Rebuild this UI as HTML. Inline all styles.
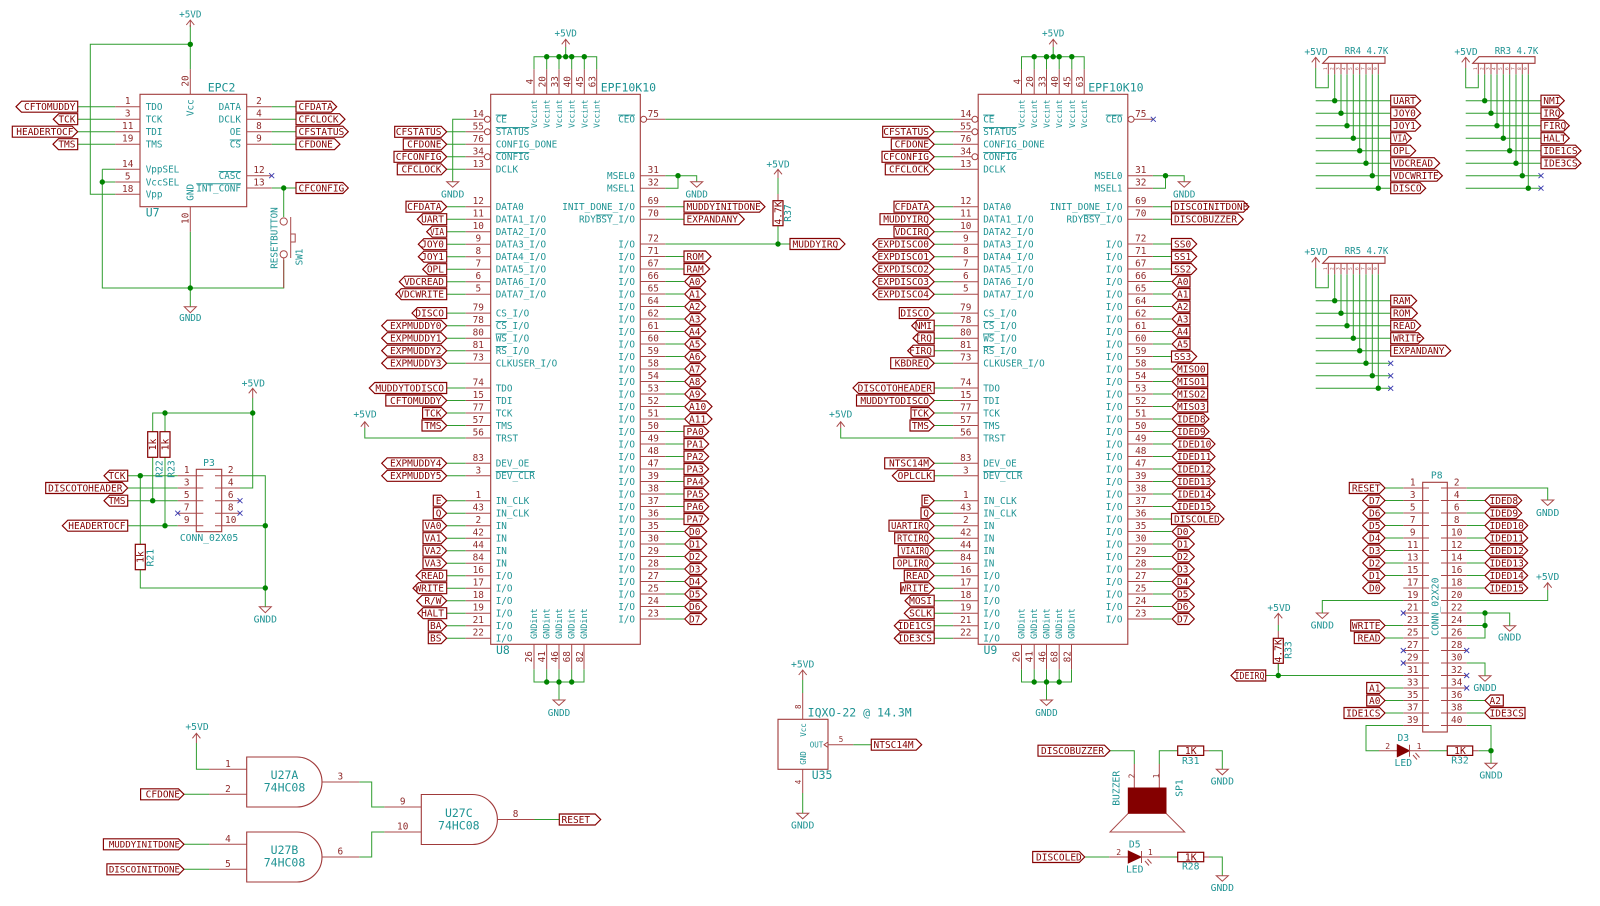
<!DOCTYPE html>
<html><head><meta charset="utf-8"><title>Schematic</title>
<style>
html,body{margin:0;padding:0;background:#fff}
svg{display:block;filter:blur(.3px)}
text{font-family:"DejaVu Sans Mono","Liberation Mono",monospace;font-size:9.7px}
.t text,text.t{fill:#1f9393}
.n text,text.n{fill:#8f2a2a;font-size:9.4px;text-anchor:middle}
.lt text{fill:#840000;font-size:9.5px}
text.lt{fill:#840000;font-size:9.5px}
.m{text-anchor:middle}.e{text-anchor:end}
.nm text{font-size:9.3px}
.big{font-size:11.5px!important}
.o{text-decoration:overline}
path,rect,circle{fill:none}
.w{stroke:#2f9c2f;stroke-width:1}
.p{stroke:#a84848;stroke-width:1}
.b{stroke:#a03a3a;stroke-width:1.1}
.l{stroke:#840000;stroke-width:1.15;fill:#fff}
.rb{stroke:#840000;stroke-width:1.2;fill:#fff}
.j{stroke:#008400;stroke-width:5.4;stroke-linecap:round}
.x{stroke:#3a3ab0;stroke-width:.9}
.inv{stroke:#a03a3a;stroke-width:1;fill:#fff}
.f{fill:#840000;stroke:#840000}
.s text{font-size:7.5px}
.tiny text{font-size:4.5px;fill:#a84848}
</style></head><body>
<svg xmlns="http://www.w3.org/2000/svg" width="1600" height="906" viewBox="0 0 1600 906">
<rect width="1600" height="906" fill="#fff"/>

<!-- U7 -->
<rect class="b" x="140" y="94.3" width="106.7" height="112.4"/>
<path class="w" d="M190.3 25V69.3M190.3 44.3H90.3V194.3H115.3M77.7 106.7H115.3M77.7 119.2H115.3M77.7 131.7H115.3M77.7 144.2H115.3M102.3 169.3H115.3M102.3 182H115.3M102.3 169.3V288H283.7V260M190.3 231.7V306.7M271.7 106.7H296M271.7 119.2H296M271.7 131.7H296M271.7 144.2H296M271.7 188H296M283.7 188V217"/>
<path class="p" d="M186.3 25L190.3 20 194.3 25M190.3 20V27M190.3 69.3V94.3M115.3 106.7H140M115.3 119.2H140M115.3 131.7H140M115.3 144.2H140M115.3 169.3H140M115.3 182H140M115.3 194.3H140M246.7 106.7H271.7M246.7 119.2H271.7M246.7 131.7H271.7M246.7 144.2H271.7M246.7 175.7H271.7M246.7 188H271.7M190.3 206.7V231.7M184.3 306.7h12l-6 6zM290.7 217V258M290.7 234h4.5v8h-4.5M283.7 258V288"/>
<circle class="p" cx="283.7" cy="221.5" r="3.6"/><circle class="p" cx="283.7" cy="254.3" r="3.6"/>
<path class="j" d="M190.3 44.3h0M102.3 182h0M190.3 288h0M283.7 188h0"/>
<path class="x" d="M269.2 173.2l5 5m0-5l-5 5"/>
<path class="l" d="M16 106.7l5.5-5.5H77.7v11H21.5zM53.3 119.2l5.5-5.5H77.7v11H58.8zM12.3 131.7v-5.5H72.2l5.5 5.5-5.5 5.5H12.3zM53 144.2l5.5-5.5H77.7v11H58.5zM296 106.7v-5.5H331.2l5.5 5.5-5.5 5.5H296zM296 119.2v-5.5H339.5l5.5 5.5-5.5 5.5H296zM296 131.7v-5.5H342.8l5.5 5.5-5.5 5.5H296zM296 144.2v-5.5H334.5l5.5 5.5-5.5 5.5H296zM296 188v-5.5H342.8l5.5 5.5-5.5 5.5H296z"/>
<g class="lt">
<text class="e" x="75.5" y="110">CFTOMUDDY</text><text class="e" x="75.5" y="122.6">TCK</text><text class="e" x="73.5" y="135.1">HEADERTOCF</text><text class="e" x="75.5" y="147.6">TMS</text>
<text x="298.5" y="110">CFDATA</text><text x="298.5" y="122.6">CFCLOCK</text><text x="298.5" y="135.1">CFSTATUS</text><text x="298.5" y="147.6">CFDONE</text><text x="298.5" y="191.4">CFCONFIG</text>
</g>
<g class="n">
<text x="127.7" y="104.2">1</text><text x="127.7" y="116.7">3</text><text x="127.7" y="129.2">11</text><text x="127.7" y="141.7">19</text><text x="127.7" y="166.8">14</text><text x="127.7" y="179.5">5</text><text x="127.7" y="191.8">18</text>
<text x="259" y="104.2">2</text><text x="259" y="116.7">4</text><text x="259" y="129.2">8</text><text x="259" y="141.7">9</text><text x="259" y="173.2">12</text><text x="259" y="185.5">13</text>
<text x="188.5" y="81" transform="rotate(-90 188.5 81)">20</text><text x="188.5" y="218.3" transform="rotate(-90 188.5 218.3)">10</text>
</g>
<g class="t nm">
<text x="145.7" y="110">TDO</text><text x="145.7" y="122.5">TCK</text><text x="145.7" y="135">TDI</text><text x="145.7" y="147.5">TMS</text><text x="145.7" y="172.6">VppSEL</text><text x="145.7" y="185.3">VccSEL</text><text x="145.7" y="197.6">Vpp</text>
<g class="e"><text x="241" y="110">DATA</text><text x="241" y="122.5">DCLK</text><text x="241" y="135">OE</text><text x="241" y="147.5"><tspan class="o">CS</tspan></text><text x="241" y="179"><tspan class="o">CASC</tspan></text><text x="241" y="191.3"><tspan class="o">INT_CONF</tspan></text></g>
<text class="m" x="193.6" y="107.7" transform="rotate(-90 193.6 107.7)">Vcc</text><text class="m" x="193.6" y="192.3" transform="rotate(-90 193.6 192.3)">GND</text>
<text class="big" x="145.7" y="216.5">U7</text><text class="big" x="207.7" y="91.3">EPC2</text>
<text class="m" x="190.3" y="17.5">+5VD</text><text class="m" x="190.3" y="321">GNDD</text>
<text class="m" x="277.3" y="238" transform="rotate(-90 277.3 238)">RESETBUTTON</text><text class="m" x="302.3" y="257" transform="rotate(-90 302.3 257)">SW1</text>
</g>

<!-- common FPGA symbol -->
<g id="c">
<rect class="b" x="490.7" y="94.3" width="149.6" height="550"/>
<path class="w" d="M534 69.3V56.7H596.7V69.3M546.7 69.3V56.7M559 69.3V56.7M571.7 69.3V56.7M584.3 69.3V56.7M565.7 56.7V47M534 669.3V682H584V669.3M546.7 669.3V682M559 669.3V700M571.7 669.3V682M665.3 175.7H696.7V181.7M665.3 188.2H678V175.7
M446.7 131.8H465.7M446.7 144.3H465.7M446.7 156.8H465.7M446.7 169.3H465.7M446.7 206.7H465.7M446.7 219.2H465.7M446.7 231.7H465.7M446.7 244.2H465.7M446.7 256.7H465.7M446.7 269.2H465.7M446.7 281.7H465.7M446.7 294.2H465.7M446.7 313.1H465.7M446.7 325.7H465.7M446.7 338.2H465.7M446.7 350.7H465.7M446.7 363.2H465.7M446.7 388H465.7M446.7 400.5H465.7M446.7 413H465.7M446.7 425.5H465.7M446.7 463.3H465.7M446.7 475.8H465.7M446.7 500.7H465.7M446.7 513.2H465.7M446.7 525.7H465.7M446.7 538.2H465.7M446.7 550.7H465.7M446.7 563.2H465.7M446.7 575.7H465.7M446.7 588.2H465.7M446.7 600.7H465.7M446.7 613.2H465.7M446.7 625.7H465.7M446.7 638.2H465.7
M665.3 206.7H684M665.3 219.2H684M665.3 244H684M665.3 256.5H684M665.3 269H684M665.3 281.5H684M665.3 294H684M665.3 306.5H684M665.3 319H684M665.3 331.5H684M665.3 344H684M665.3 356.5H684M665.3 369H684M665.3 381.5H684M665.3 394H684M665.3 406.5H684M665.3 419H684M665.3 431.5H684M665.3 444H684M665.3 456.5H684M665.3 469H684M665.3 481.5H684M665.3 494H684M665.3 506.5H684M665.3 519H684M665.3 531.5H684M665.3 544H684M665.3 556.5H684M665.3 569H684M665.3 581.5H684M665.3 594H684M665.3 606.5H684M665.3 619H684"/>
<path class="p" d="M561.7 44.3L565.7 39.3 569.7 44.3M565.7 39.3V47M534 69.3V94.3M546.7 69.3V94.3M559 69.3V94.3M571.7 69.3V94.3M584.3 69.3V94.3M596.7 69.3V94.3M534 644.3V669.3M546.7 644.3V669.3M559 644.3V669.3M571.7 644.3V669.3M584 644.3V669.3M553 700h12l-6 5.5zM690.7 181.7h12l-6 5.5z
M465.7 119.3H490.7M465.7 131.8H490.7M465.7 144.3H490.7M465.7 156.8H490.7M465.7 169.3H490.7M465.7 206.7H490.7M465.7 219.2H490.7M465.7 231.7H490.7M465.7 244.2H490.7M465.7 256.7H490.7M465.7 269.2H490.7M465.7 281.7H490.7M465.7 294.2H490.7M465.7 313.1H490.7M465.7 325.7H490.7M465.7 338.2H490.7M465.7 350.7H490.7M465.7 363.2H490.7M465.7 388H490.7M465.7 400.5H490.7M465.7 413H490.7M465.7 425.5H490.7M465.7 438H490.7M465.7 463.3H490.7M465.7 475.8H490.7M465.7 500.7H490.7M465.7 513.2H490.7M465.7 525.7H490.7M465.7 538.2H490.7M465.7 550.7H490.7M465.7 563.2H490.7M465.7 575.7H490.7M465.7 588.2H490.7M465.7 600.7H490.7M465.7 613.2H490.7M465.7 625.7H490.7M465.7 638.2H490.7
M640.3 119.3H665.3M640.3 175.7H665.3M640.3 188.2H665.3M640.3 206.7H665.3M640.3 219.2H665.3M640.3 244H665.3M640.3 256.5H665.3M640.3 269H665.3M640.3 281.5H665.3M640.3 294H665.3M640.3 306.5H665.3M640.3 319H665.3M640.3 331.5H665.3M640.3 344H665.3M640.3 356.5H665.3M640.3 369H665.3M640.3 381.5H665.3M640.3 394H665.3M640.3 406.5H665.3M640.3 419H665.3M640.3 431.5H665.3M640.3 444H665.3M640.3 456.5H665.3M640.3 469H665.3M640.3 481.5H665.3M640.3 494H665.3M640.3 506.5H665.3M640.3 519H665.3M640.3 531.5H665.3M640.3 544H665.3M640.3 556.5H665.3M640.3 569H665.3M640.3 581.5H665.3M640.3 594H665.3M640.3 606.5H665.3M640.3 619H665.3"/>
<path class="j" d="M546.7 56.7h0M559 56.7h0M565.7 56.7h0M571.7 56.7h0M584.3 56.7h0M546.7 682h0M559 682h0M571.7 682h0M678 175.7h0"/>
<circle class="inv" cx="487.4" cy="119.3" r="3"/><circle class="inv" cx="487.4" cy="131.8" r="3"/><circle class="inv" cx="487.4" cy="156.8" r="3"/><circle class="inv" cx="643.6" cy="119.3" r="3"/>
<g class="n">
<text x="478.3" y="116.8">14</text><text x="478.3" y="129.3">55</text><text x="478.3" y="141.8">76</text><text x="478.3" y="154.3">34</text><text x="478.3" y="166.8">13</text><text x="478.3" y="204.2">12</text><text x="478.3" y="216.7">11</text><text x="478.3" y="229.2">10</text><text x="478.3" y="241.7">9</text><text x="478.3" y="254.2">8</text><text x="478.3" y="266.7">7</text><text x="478.3" y="279.2">6</text><text x="478.3" y="291.7">5</text><text x="478.3" y="310.6">79</text><text x="478.3" y="323.2">78</text><text x="478.3" y="335.7">80</text><text x="478.3" y="348.2">81</text><text x="478.3" y="360.7">73</text><text x="478.3" y="385.5">74</text><text x="478.3" y="398">15</text><text x="478.3" y="410.5">77</text><text x="478.3" y="423">57</text><text x="478.3" y="435.5">56</text><text x="478.3" y="460.8">83</text><text x="478.3" y="473.3">3</text><text x="478.3" y="498.2">1</text><text x="478.3" y="510.7">43</text><text x="478.3" y="523.2">2</text><text x="478.3" y="535.7">42</text><text x="478.3" y="548.2">44</text><text x="478.3" y="560.7">84</text><text x="478.3" y="573.2">16</text><text x="478.3" y="585.7">17</text><text x="478.3" y="598.2">18</text><text x="478.3" y="610.7">19</text><text x="478.3" y="623.2">21</text><text x="478.3" y="635.7">22</text>
<text x="653.3" y="116.8">75</text><text x="653.3" y="173.2">31</text><text x="653.3" y="185.7">32</text><text x="653.3" y="204.2">69</text><text x="653.3" y="216.7">70</text>
<text x="653.3" y="241.5">72</text><text x="653.3" y="254">71</text><text x="653.3" y="266.5">67</text><text x="653.3" y="279">66</text><text x="653.3" y="291.5">65</text><text x="653.3" y="304">64</text><text x="653.3" y="316.5">62</text><text x="653.3" y="329">61</text><text x="653.3" y="341.5">60</text><text x="653.3" y="354">59</text><text x="653.3" y="366.5">58</text><text x="653.3" y="379">54</text><text x="653.3" y="391.5">53</text><text x="653.3" y="404">52</text><text x="653.3" y="416.5">51</text><text x="653.3" y="429">50</text><text x="653.3" y="441.5">49</text><text x="653.3" y="454">48</text><text x="653.3" y="466.5">47</text><text x="653.3" y="479">39</text><text x="653.3" y="491.5">38</text><text x="653.3" y="504">37</text><text x="653.3" y="516.5">36</text><text x="653.3" y="529">35</text><text x="653.3" y="541.5">30</text><text x="653.3" y="554">29</text><text x="653.3" y="566.5">28</text><text x="653.3" y="579">27</text><text x="653.3" y="591.5">25</text><text x="653.3" y="604">24</text><text x="653.3" y="616.5">23</text>
<text x="533" y="81.7" transform="rotate(-90 533 81.7)">4</text><text x="545.5" y="81.7" transform="rotate(-90 545.5 81.7)">20</text><text x="558" y="81.7" transform="rotate(-90 558 81.7)">33</text><text x="570.5" y="81.7" transform="rotate(-90 570.5 81.7)">40</text><text x="583" y="81.7" transform="rotate(-90 583 81.7)">45</text><text x="595.5" y="81.7" transform="rotate(-90 595.5 81.7)">63</text>
<text x="532" y="656.7" transform="rotate(-90 532 656.7)">26</text><text x="545" y="656.7" transform="rotate(-90 545 656.7)">41</text><text x="558" y="656.7" transform="rotate(-90 558 656.7)">46</text><text x="570" y="656.7" transform="rotate(-90 570 656.7)">68</text><text x="583" y="656.7" transform="rotate(-90 583 656.7)">82</text>
</g>
<g class="t nm">
<text x="495.7" y="122.6"><tspan class="o">CE</tspan></text><text x="495.7" y="135.1"><tspan class="o">STATUS</tspan></text><text x="495.7" y="147.6">CONFIG_DONE</text><text x="495.7" y="160.1"><tspan class="o">CONFIG</tspan></text><text x="495.7" y="172.6">DCLK</text><text x="495.7" y="210">DATA0</text><text x="495.7" y="222.5">DATA1_I/O</text><text x="495.7" y="235">DATA2_I/O</text><text x="495.7" y="247.5">DATA3_I/O</text><text x="495.7" y="260">DATA4_I/O</text><text x="495.7" y="272.5">DATA5_I/O</text><text x="495.7" y="285">DATA6_I/O</text><text x="495.7" y="297.5">DATA7_I/O</text><text x="495.7" y="316.4">CS_I/O</text><text x="495.7" y="329"><tspan class="o">CS</tspan>_I/O</text><text x="495.7" y="341.5"><tspan class="o">WS</tspan>_I/O</text><text x="495.7" y="354"><tspan class="o">RS</tspan>_I/O</text><text x="495.7" y="366.5">CLKUSER_I/O</text><text x="495.7" y="391.3">TDO</text><text x="495.7" y="403.8">TDI</text><text x="495.7" y="416.3">TCK</text><text x="495.7" y="428.8">TMS</text><text x="495.7" y="441.3">TRST</text><text x="495.7" y="466.6">DEV_OE</text><text x="495.7" y="479.1"><tspan class="o">DEV_CLR</tspan></text><text x="495.7" y="504">IN_CLK</text><text x="495.7" y="516.5">IN_CLK</text><text x="495.7" y="529">IN</text><text x="495.7" y="541.5">IN</text><text x="495.7" y="554">IN</text><text x="495.7" y="566.5">IN</text><text x="495.7" y="579">I/O</text><text x="495.7" y="591.5">I/O</text><text x="495.7" y="604">I/O</text><text x="495.7" y="616.5">I/O</text><text x="495.7" y="629">I/O</text><text x="495.7" y="641.5">I/O</text>
<g class="e"><text x="635" y="122.6"><tspan class="o">CEO</tspan></text><text x="635" y="179">MSEL0</text><text x="635" y="191.5">MSEL1</text><text x="635" y="210">INIT_DONE_I/O</text><text x="635" y="222.5">RDY<tspan class="o">BSY</tspan>_I/O</text>
<text x="635" y="247.3">I/O</text><text x="635" y="259.8">I/O</text><text x="635" y="272.3">I/O</text><text x="635" y="284.8">I/O</text><text x="635" y="297.3">I/O</text><text x="635" y="309.8">I/O</text><text x="635" y="322.3">I/O</text><text x="635" y="334.8">I/O</text><text x="635" y="347.3">I/O</text><text x="635" y="359.8">I/O</text><text x="635" y="372.3">I/O</text><text x="635" y="384.8">I/O</text><text x="635" y="397.3">I/O</text><text x="635" y="409.8">I/O</text><text x="635" y="422.3">I/O</text><text x="635" y="434.8">I/O</text><text x="635" y="447.3">I/O</text><text x="635" y="459.8">I/O</text><text x="635" y="472.3">I/O</text><text x="635" y="484.8">I/O</text><text x="635" y="497.3">I/O</text><text x="635" y="509.8">I/O</text><text x="635" y="522.3">I/O</text><text x="635" y="534.8">I/O</text><text x="635" y="547.3">I/O</text><text x="635" y="559.8">I/O</text><text x="635" y="572.3">I/O</text><text x="635" y="584.8">I/O</text><text x="635" y="597.3">I/O</text><text x="635" y="609.8">I/O</text><text x="635" y="622.3">I/O</text></g>
<g class="e">
<text style="font-size:7.9px" x="537" y="99.5" transform="rotate(-90 537 99.5)">Vccint</text><text style="font-size:7.9px" x="549.7" y="99.5" transform="rotate(-90 549.7 99.5)">Vccint</text><text style="font-size:7.9px" x="562" y="99.5" transform="rotate(-90 562 99.5)">Vccint</text><text style="font-size:7.9px" x="574.7" y="99.5" transform="rotate(-90 574.7 99.5)">Vccint</text><text style="font-size:7.9px" x="587.3" y="99.5" transform="rotate(-90 587.3 99.5)">Vccint</text><text style="font-size:7.9px" x="599.7" y="99.5" transform="rotate(-90 599.7 99.5)">Vccint</text>
</g>
<text style="font-size:8.5px" x="537" y="639" transform="rotate(-90 537 639)">GNDint</text><text style="font-size:8.5px" x="549.7" y="639" transform="rotate(-90 549.7 639)">GNDint</text><text style="font-size:8.5px" x="562" y="639" transform="rotate(-90 562 639)">GNDint</text><text style="font-size:8.5px" x="574.7" y="639" transform="rotate(-90 574.7 639)">GNDint</text><text style="font-size:8.5px" x="587" y="639" transform="rotate(-90 587 639)">GNDint</text>
<text class="big" x="600.7" y="91.4">EPF10K10</text>
<text class="m" x="565.7" y="36.4">+5VD</text><text class="m" x="559" y="716">GNDD</text><text class="m" x="696.7" y="197.4">GNDD</text>
</g>
</g>
<use href="#c" x="487.5"/>
<g class="t"><text class="big" x="496" y="654">U8</text><text class="big" x="983.5" y="654">U9</text></g>

<!-- U8/U9 specific wires -->
<path class="w" d="M465.7 119.3H452.7V181.7M665.3 119.3H953.2M364.8 428V438H465.7M840.7 428V438H953.2M684 244H790M778 225.7V244M778 178V200.7"/>
<path class="p" d="M446.7 181.7h12l-6 5.5zM360.8 426.7L364.8 421.7 368.8 426.7M364.8 421.7V428M836.7 426.7L840.7 421.7 844.7 426.7M840.7 421.7V428M774 174.3L778 169.3 782 174.3M778 169.3V178M778 194V200.7"/>
<rect class="rb" x="773" y="200.7" width="10" height="25"/>
<path class="j" d="M778 244h0"/>
<path class="x" d="M1150.8 116.8l5 5m0-5l-5 5"/>
<path class="w" d="M1153.3 119.3H1152.8"/>
<g class="t"><text class="m" x="452.7" y="197.4">GNDD</text><text class="m" x="365" y="417.5">+5VD</text><text class="m" x="840.7" y="417.5">+5VD</text><text class="m" x="778" y="167.5">+5VD</text><text class="m" x="791" y="213" transform="rotate(-90 791 213)">R37</text></g>
<text class="m" fill="#840000" x="781.3" y="213" transform="rotate(-90 781.3 213)">4.7K</text>

<!-- U8 left labels -->
<path class="l" d="M394.7 131.8v-5.5H441.2l5.5 5.5-5.5 5.5H394.7zM403.3 144.3v-5.5H441.2l5.5 5.5-5.5 5.5H403.3zM394 156.8v-5.5H441.2l5.5 5.5-5.5 5.5H394zM397.3 169.3v-5.5H441.2l5.5 5.5-5.5 5.5H397.3zM406 206.7v-5.5H441.2l5.5 5.5-5.5 5.5H406z
M446.7 219.2v-5.5H422.8l-5.5 5.5 5.5 5.5H446.7zM446.7 231.7v-5.5H432.2l-5.5 5.5 5.5 5.5H446.7zM446.7 244.2v-5.5H423.8l-5.5 5.5 5.5 5.5H446.7zM446.7 256.7v-5.5H423.8l-5.5 5.5 5.5 5.5H446.7zM446.7 269.2v-5.5H428.2l-5.5 5.5 5.5 5.5H446.7zM446.7 281.7v-5.5H404.8l-5.5 5.5 5.5 5.5H446.7zM446.7 294.2v-5.5H401.2l-5.5 5.5 5.5 5.5H446.7zM446.7 313.1v-5.5H417.5l-5.5 5.5 5.5 5.5H446.7z
M381.7 325.7l5.5-5.5H441.2l5.5 5.5-5.5 5.5H387.2zM381.7 338.2l5.5-5.5H441.2l5.5 5.5-5.5 5.5H387.2zM381.7 350.7l5.5-5.5H441.2l5.5 5.5-5.5 5.5H387.2zM381.7 363.2l5.5-5.5H441.2l5.5 5.5-5.5 5.5H387.2z
M446.7 388v-5.5H374.8l-5.5 5.5 5.5 5.5H446.7zM385.8 400.5v-5.5H441.2l5.5 5.5-5.5 5.5H385.8zM422.6 413v-5.5H441.2l5.5 5.5-5.5 5.5H422.6zM422 425.5v-5.5H441.2l5.5 5.5-5.5 5.5H422z
M381.7 463.3l5.5-5.5H441.2l5.5 5.5-5.5 5.5H387.2zM381.7 475.8l5.5-5.5H441.2l5.5 5.5-5.5 5.5H387.2z
M433.3 500.7v-5.5H441.2l5.5 5.5-5.5 5.5H433.3zM433.3 513.2v-5.5H441.2l5.5 5.5-5.5 5.5H433.3zM423 525.7v-5.5H441.2l5.5 5.5-5.5 5.5H423zM423 538.2v-5.5H441.2l5.5 5.5-5.5 5.5H423zM423 550.7v-5.5H441.2l5.5 5.5-5.5 5.5H423zM423 563.2v-5.5H441.2l5.5 5.5-5.5 5.5H423z
M446.7 575.7v-5.5H421.5l-5.5 5.5 5.5 5.5H446.7zM446.7 588.2v-5.5H418.5l-5.5 5.5 5.5 5.5H446.7zM416.7 600.7l5.5-5.5H441.2l5.5 5.5-5.5 5.5H422.2zM446.7 613.2v-5.5H423.2l-5.5 5.5 5.5 5.5H446.7zM428.3 625.7v-5.5H441.2l5.5 5.5-5.5 5.5H428.3zM428.3 638.2v-5.5H441.2l5.5 5.5-5.5 5.5H428.3z"/>
<g class="lt e">
<text x="441.5" y="135.2">CFSTATUS</text><text x="441.5" y="147.7">CFDONE</text><text x="441.5" y="160.2">CFCONFIG</text><text x="441.5" y="172.7">CFCLOCK</text><text x="441.5" y="210.1">CFDATA</text><text x="444" y="222.6">UART</text><text x="444" y="235.1" textLength="14" lengthAdjust="spacingAndGlyphs">VIA</text><text x="444" y="247.6">JOY0</text><text x="444" y="260.1">JOY1</text><text x="444" y="272.6">OPL</text><text x="444" y="285.1">VDCREAD</text><text x="444" y="297.6">VDCWRITE</text><text x="444" y="316.5">DISCO</text><text x="441.5" y="329.1">EXPMUDDY0</text><text x="441.5" y="341.6">EXPMUDDY1</text><text x="441.5" y="354.1">EXPMUDDY2</text><text x="441.5" y="366.6">EXPMUDDY3</text><text x="444" y="391.4">MUDDYTODISCO</text><text x="441.5" y="403.9">CFTOMUDDY</text><text x="441.5" y="416.4">TCK</text><text x="441.5" y="428.9">TMS</text><text x="441.5" y="466.7">EXPMUDDY4</text><text x="441.5" y="479.2">EXPMUDDY5</text><text x="441.5" y="504.1">E</text><text x="441.5" y="516.6">Q</text><text x="441.5" y="529.1">VA0</text><text x="441.5" y="541.6">VA1</text><text x="441.5" y="554.1">VA2</text><text x="441.5" y="566.6">VA3</text><text x="444" y="579.1">READ</text><text x="444" y="591.6">WRITE</text><text x="441.5" y="604.1">R/W</text><text x="444" y="616.6">HALT</text><text x="441.5" y="629.1">BA</text><text x="441.5" y="641.6">BS</text>
</g>
<!-- U8 right labels -->
<path class="l" d="M684 206.7v-5.5H759.5l5.5 5.5-5.5 5.5H684zM684 219.2v-5.5H738.8l5.5 5.5-5.5 5.5H684zM684 256.5v-5.5H705.5l5.5 5.5-5.5 5.5H684zM684 269v-5.5H704.2l5.5 5.5-5.5 5.5H684z
M684.7 281.5l5.5-5.5H700.2l5.5 5.5-5.5 5.5H690.2zM684.7 294l5.5-5.5H700.2l5.5 5.5-5.5 5.5H690.2zM684.7 306.5l5.5-5.5H700.2l5.5 5.5-5.5 5.5H690.2zM684.7 319l5.5-5.5H700.2l5.5 5.5-5.5 5.5H690.2zM684.7 331.5l5.5-5.5H700.2l5.5 5.5-5.5 5.5H690.2zM684.7 344l5.5-5.5H700.2l5.5 5.5-5.5 5.5H690.2zM684.7 356.5l5.5-5.5H700.2l5.5 5.5-5.5 5.5H690.2zM684.7 369l5.5-5.5H700.2l5.5 5.5-5.5 5.5H690.2zM684.7 381.5l5.5-5.5H700.2l5.5 5.5-5.5 5.5H690.2zM684.7 394l5.5-5.5H700.2l5.5 5.5-5.5 5.5H690.2zM684.7 406.5l5.5-5.5H706.5l5.5 5.5-5.5 5.5H690.2zM684.7 419l5.5-5.5H706.5l5.5 5.5-5.5 5.5H690.2z
M684 431.5v-5.5H703.2l5.5 5.5-5.5 5.5H684zM684 444v-5.5H703.2l5.5 5.5-5.5 5.5H684zM684 456.5v-5.5H703.2l5.5 5.5-5.5 5.5H684zM684 469v-5.5H703.2l5.5 5.5-5.5 5.5H684zM684 481.5v-5.5H703.2l5.5 5.5-5.5 5.5H684zM684 494v-5.5H703.2l5.5 5.5-5.5 5.5H684zM684 506.5v-5.5H703.2l5.5 5.5-5.5 5.5H684zM684 519v-5.5H703.2l5.5 5.5-5.5 5.5H684z
M684.7 531.5l5.5-5.5H701.2l5.5 5.5-5.5 5.5H690.2zM684.7 544l5.5-5.5H701.2l5.5 5.5-5.5 5.5H690.2zM684.7 556.5l5.5-5.5H701.2l5.5 5.5-5.5 5.5H690.2zM684.7 569l5.5-5.5H701.2l5.5 5.5-5.5 5.5H690.2zM684.7 581.5l5.5-5.5H701.2l5.5 5.5-5.5 5.5H690.2zM684.7 594l5.5-5.5H701.2l5.5 5.5-5.5 5.5H690.2zM684.7 606.5l5.5-5.5H701.2l5.5 5.5-5.5 5.5H690.2zM684.7 619l5.5-5.5H701.2l5.5 5.5-5.5 5.5H690.2z
M790 244v-5.5H839.5l5.5 5.5-5.5 5.5H790z"/>
<g class="lt">
<text x="686.5" y="210.1">MUDDYINITDONE</text><text x="686.5" y="222.6">EXPANDANY</text><text x="686.5" y="259.9">ROM</text><text x="686.5" y="272.4">RAM</text>
<text x="689" y="284.9">A0</text><text x="689" y="297.4">A1</text><text x="689" y="309.9">A2</text><text x="689" y="322.4">A3</text><text x="689" y="334.9">A4</text><text x="689" y="347.4">A5</text><text x="689" y="359.9">A6</text><text x="689" y="372.4">A7</text><text x="689" y="384.9">A8</text><text x="689" y="397.4">A9</text><text x="689" y="409.9">A10</text><text x="689" y="422.4">A11</text>
<text x="686.5" y="434.9">PA0</text><text x="686.5" y="447.4">PA1</text><text x="686.5" y="459.9">PA2</text><text x="686.5" y="472.4">PA3</text><text x="686.5" y="484.9">PA4</text><text x="686.5" y="497.4">PA5</text><text x="686.5" y="509.9">PA6</text><text x="686.5" y="522.4">PA7</text>
<text x="689" y="534.9">D0</text><text x="689" y="547.4">D1</text><text x="689" y="559.9">D2</text><text x="689" y="572.4">D3</text><text x="689" y="584.9">D4</text><text x="689" y="597.4">D5</text><text x="689" y="609.9">D6</text><text x="689" y="622.4">D7</text>
<text x="792.5" y="247.4">MUDDYIRQ</text>
</g>

<!-- U9 left labels -->
<path class="l" d="M882.7 131.8v-5.5H928.7l5.5 5.5-5.5 5.5H882.7zM891.3 144.3v-5.5H928.7l5.5 5.5-5.5 5.5H891.3zM882 156.8v-5.5H928.7l5.5 5.5-5.5 5.5H882zM885.3 169.3v-5.5H928.7l5.5 5.5-5.5 5.5H885.3zM894 206.7v-5.5H928.7l5.5 5.5-5.5 5.5H894zM880 219.2v-5.5H928.7l5.5 5.5-5.5 5.5H880zM894 231.7v-5.5H928.7l5.5 5.5-5.5 5.5H894z
M872.7 244.2l5.5-5.5H928.7l5.5 5.5-5.5 5.5H878.2zM872.7 256.7l5.5-5.5H928.7l5.5 5.5-5.5 5.5H878.2zM872.7 269.2l5.5-5.5H928.7l5.5 5.5-5.5 5.5H878.2zM872.7 281.7l5.5-5.5H928.7l5.5 5.5-5.5 5.5H878.2zM872.7 294.2l5.5-5.5H928.7l5.5 5.5-5.5 5.5H878.2z
M899.3 313.1v-5.5H928.7l5.5 5.5-5.5 5.5H899.3zM934.2 325.7v-5.5H917.2l-5.5 5.5 5.5 5.5H934.2zM934.2 338.2v-5.5H918.5l-5.5 5.5 5.5 5.5H934.2zM934.2 350.7v-5.5H913.2l-5.5 5.5 5.5 5.5H934.2zM890.7 363.2v-5.5H928.7l5.5 5.5-5.5 5.5H890.7z
M934.2 388v-5.5H858.5l-5.5 5.5 5.5 5.5H934.2zM856.5 400.5v-5.5H928.7l5.5 5.5-5.5 5.5H856.5zM911 413v-5.5H928.7l5.5 5.5-5.5 5.5H911zM910 425.5v-5.5H928.7l5.5 5.5-5.5 5.5H910zM884.7 463.3v-5.5H928.7l5.5 5.5-5.5 5.5H884.7zM934.2 475.8v-5.5H897.8l-5.5 5.5 5.5 5.5H934.2z
M922 500.7v-5.5H928.7l5.5 5.5-5.5 5.5H922zM921 513.2v-5.5H928.7l5.5 5.5-5.5 5.5H921zM889 525.7v-5.5H928.7l5.5 5.5-5.5 5.5H889zM894.7 538.2v-5.5H928.7l5.5 5.5-5.5 5.5H894.7zM898.3 550.7v-5.5H928.7l5.5 5.5-5.5 5.5H898.3zM893.7 563.2v-5.5H928.7l5.5 5.5-5.5 5.5H893.7zM904.3 575.7v-5.5H928.7l5.5 5.5-5.5 5.5H904.3zM900.7 588.2v-5.5H928.7l5.5 5.5-5.5 5.5H900.7z
M934.2 600.7v-5.5H910.5l-5.5 5.5 5.5 5.5H934.2zM934.2 613.2v-5.5H909.8l-5.5 5.5 5.5 5.5H934.2zM934.2 625.7v-5.5H899.8l-5.5 5.5 5.5 5.5H934.2zM934.2 638.2v-5.5H899.8l-5.5 5.5 5.5 5.5H934.2z"/>
<g class="lt e">
<text x="929" y="135.2">CFSTATUS</text><text x="929" y="147.7">CFDONE</text><text x="929" y="160.2">CFCONFIG</text><text x="929" y="172.7">CFCLOCK</text><text x="929" y="210.1">CFDATA</text><text x="929" y="222.6">MUDDYIRQ</text><text x="929" y="235.1">VDCIRQ</text><text x="929" y="247.6">EXPDISCO0</text><text x="929" y="260.1">EXPDISCO1</text><text x="929" y="272.6">EXPDISCO2</text><text x="929" y="285.1">EXPDISCO3</text><text x="929" y="297.6">EXPDISCO4</text><text x="929" y="316.5">DISCO</text><text x="932" y="329.1">NMI</text><text x="932" y="341.6">IRQ</text><text x="932" y="354.1">FIRQ</text><text x="929" y="366.6">KBDREQ</text><text x="932" y="391.4">DISCOTOHEADER</text><text x="929" y="403.9">MUDDYTODISCO</text><text x="929" y="416.4">TCK</text><text x="929" y="428.9">TMS</text><text x="929" y="466.7">NTSC14M</text><text x="932" y="479.2">OPLCLK</text><text x="929" y="504.1">E</text><text x="929" y="516.6">Q</text><text x="929" y="529.1" textLength="38" lengthAdjust="spacingAndGlyphs">UARTIRQ</text><text x="929" y="541.6" textLength="32" lengthAdjust="spacingAndGlyphs">RTCIRQ</text><text x="929" y="554.1" textLength="28" lengthAdjust="spacingAndGlyphs">VIAIRQ</text><text x="929" y="566.6" textLength="32" lengthAdjust="spacingAndGlyphs">OPLIRQ</text><text x="929" y="579.1">READ</text><text x="929" y="591.6">WRITE</text><text x="932" y="604.1">MOSI</text><text x="932" y="616.6">SCLK</text><text x="932" y="629.1">IDE1CS</text><text x="932" y="641.6">IDE3CS</text>
</g>
<!-- U9 right labels -->
<path class="l" d="M1171.5 206.7v-5.5H1243.5l5.5 5.5-5.5 5.5H1171.5zM1171.5 219.2v-5.5H1237.8l5.5 5.5-5.5 5.5H1171.5zM1171.5 244v-5.5H1191.2l5.5 5.5-5.5 5.5H1171.5zM1171.5 256.5v-5.5H1191.2l5.5 5.5-5.5 5.5H1171.5zM1171.5 269v-5.5H1191.2l5.5 5.5-5.5 5.5H1171.5z
M1190 281.5v-5.5H1177.7l-5.5 5.5 5.5 5.5H1190zM1190 294v-5.5H1177.7l-5.5 5.5 5.5 5.5H1190zM1190 306.5v-5.5H1177.7l-5.5 5.5 5.5 5.5H1190zM1190 319v-5.5H1177.7l-5.5 5.5 5.5 5.5H1190zM1190 331.5v-5.5H1177.7l-5.5 5.5 5.5 5.5H1190zM1190 344v-5.5H1177.7l-5.5 5.5 5.5 5.5H1190z
M1171.5 356.5v-5.5H1191.2l5.5 5.5-5.5 5.5H1171.5zM1207.7 369v-5.5H1177.7l-5.5 5.5 5.5 5.5H1207.7zM1207.7 381.5v-5.5H1177.7l-5.5 5.5 5.5 5.5H1207.7zM1207.7 394v-5.5H1177.7l-5.5 5.5 5.5 5.5H1207.7zM1207.7 406.5v-5.5H1177.7l-5.5 5.5 5.5 5.5H1207.7z
M1172.2 419l5.5-5.5H1203.5l5.5 5.5-5.5 5.5H1177.7zM1172.2 431.5l5.5-5.5H1203.5l5.5 5.5-5.5 5.5H1177.7zM1172.2 444l5.5-5.5H1209.5l5.5 5.5-5.5 5.5H1177.7zM1172.2 456.5l5.5-5.5H1209.5l5.5 5.5-5.5 5.5H1177.7zM1172.2 469l5.5-5.5H1209.5l5.5 5.5-5.5 5.5H1177.7zM1172.2 481.5l5.5-5.5H1209.5l5.5 5.5-5.5 5.5H1177.7zM1172.2 494l5.5-5.5H1209.5l5.5 5.5-5.5 5.5H1177.7zM1172.2 506.5l5.5-5.5H1209.5l5.5 5.5-5.5 5.5H1177.7z
M1171.5 519v-5.5H1218.5l5.5 5.5-5.5 5.5H1171.5z
M1172.2 531.5l5.5-5.5H1188.8l5.5 5.5-5.5 5.5H1177.7zM1172.2 544l5.5-5.5H1188.8l5.5 5.5-5.5 5.5H1177.7zM1172.2 556.5l5.5-5.5H1188.8l5.5 5.5-5.5 5.5H1177.7zM1172.2 569l5.5-5.5H1188.8l5.5 5.5-5.5 5.5H1177.7zM1172.2 581.5l5.5-5.5H1188.8l5.5 5.5-5.5 5.5H1177.7zM1172.2 594l5.5-5.5H1188.8l5.5 5.5-5.5 5.5H1177.7zM1172.2 606.5l5.5-5.5H1188.8l5.5 5.5-5.5 5.5H1177.7zM1172.2 619l5.5-5.5H1188.8l5.5 5.5-5.5 5.5H1177.7z"/>
<g class="lt">
<text x="1174" y="210.1">DISCOINITDONE</text><text x="1174" y="222.6">DISCOBUZZER</text><text x="1174" y="247.4">SS0</text><text x="1174" y="259.9">SS1</text><text x="1174" y="272.4">SS2</text>
<text x="1177" y="284.9">A0</text><text x="1177" y="297.4">A1</text><text x="1177" y="309.9">A2</text><text x="1177" y="322.4">A3</text><text x="1177" y="334.9">A4</text><text x="1177" y="347.4">A5</text><text x="1174" y="359.9">SS3</text><text x="1177" y="372.4">MISO0</text><text x="1177" y="384.9">MISO1</text><text x="1177" y="397.4">MISO2</text><text x="1177" y="409.9">MISO3</text><text x="1177" y="422.4">IDED8</text><text x="1177" y="434.9">IDED9</text><text x="1177" y="447.4">IDED10</text><text x="1177" y="459.9">IDED11</text><text x="1177" y="472.4">IDED12</text><text x="1177" y="484.9">IDED13</text><text x="1177" y="497.4">IDED14</text><text x="1177" y="509.9">IDED15</text><text x="1174" y="522.4">DISCOLED</text>
<text x="1177" y="534.9">D0</text><text x="1177" y="547.4">D1</text><text x="1177" y="559.9">D2</text><text x="1177" y="572.4">D3</text><text x="1177" y="584.9">D4</text><text x="1177" y="597.4">D5</text><text x="1177" y="609.9">D6</text><text x="1177" y="622.4">D7</text>
</g>

<!-- resistor networks -->
<g id="r">
<path class="b" d="M1329 56.7H1385V63.3H1322.7z"/>
<path class="w" d="M1328.3 74.3V87.7H1315.7V68M1334.7 74.3V100.7M1341 74.3V113.2M1347 74.3V125.7M1353.3 74.3V138.2M1359.7 74.3V150.7M1366 74.3V163.2M1372.3 74.3V175.7M1378.3 74.3V188.2M1315.7 100.7H1390.7M1315.7 113.2H1390.7M1315.7 125.7H1390.7M1315.7 138.2H1390.7M1315.7 150.7H1390.7M1315.7 163.2H1390.7M1315.7 175.7H1390.7M1315.7 188.2H1390.7"/>
<path class="p" d="M1311.7 62.3L1315.7 57.3 1319.7 62.3M1315.7 57.3V68M1328.3 63.3V74.3M1334.7 63.3V74.3M1341 63.3V74.3M1347 63.3V74.3M1353.3 63.3V74.3M1359.7 63.3V74.3M1366 63.3V74.3M1372.3 63.3V74.3M1378.3 63.3V74.3"/>
<path class="j" d="M1334.7 100.7h0M1341 113.2h0M1347 125.7h0M1353.3 138.2h0M1359.7 150.7h0M1366 163.2h0M1372.3 175.7h0M1378.3 188.2h0"/>
<g class="tiny"><text x="1327" y="70" transform="rotate(-90 1327 70)">1</text><text x="1333.4" y="70" transform="rotate(-90 1333.4 70)">2</text><text x="1339.7" y="70" transform="rotate(-90 1339.7 70)">3</text><text x="1345.7" y="70" transform="rotate(-90 1345.7 70)">4</text><text x="1352" y="70" transform="rotate(-90 1352 70)">5</text><text x="1358.4" y="70" transform="rotate(-90 1358.4 70)">6</text><text x="1364.7" y="70" transform="rotate(-90 1364.7 70)">7</text><text x="1371" y="70" transform="rotate(-90 1371 70)">8</text><text x="1377" y="70" transform="rotate(-90 1377 70)">9</text></g>
<text class="t m" x="1316" y="55">+5VD</text>
</g>
<use href="#r" x="150"/><use href="#r" y="200"/>
<g class="t"><text x="1344.7" y="54" textLength="43.6" lengthAdjust="spacingAndGlyphs">RR4 4.7K</text><text x="1494.7" y="54" textLength="43.6" lengthAdjust="spacingAndGlyphs">RR3 4.7K</text><text x="1344.7" y="254" textLength="43.6" lengthAdjust="spacingAndGlyphs">RR5 4.7K</text></g>
<path class="x" d="M1538.5 173.2l5 5m0-5l-5 5M1538.5 185.7l5 5m0-5l-5 5M1388.2 360.8l5 5m0-5l-5 5M1388.2 373.3l5 5m0-5l-5 5M1388.2 385.8l5 5m0-5l-5 5"/>
<path class="l" d="M1390.7 100.7v-5.5H1415.2l5.5 5.5-5.5 5.5H1390.7zM1390.7 113.2v-5.5H1415.2l5.5 5.5-5.5 5.5H1390.7zM1390.7 125.7v-5.5H1415.2l5.5 5.5-5.5 5.5H1390.7zM1390.7 138.2v-5.5H1405.9l5.5 5.5-5.5 5.5H1390.7zM1390.7 150.7v-5.5H1410.2l5.5 5.5-5.5 5.5H1390.7zM1390.7 163.2v-5.5H1434.2l5.5 5.5-5.5 5.5H1390.7zM1390.7 175.7v-5.5H1436.9l5.5 5.5-5.5 5.5H1390.7zM1390.7 188.2v-5.5H1420.2l5.5 5.5-5.5 5.5H1390.7z
M1541 100.7v-5.5H1558.8l5.5 5.5-5.5 5.5H1541zM1541 113.2v-5.5H1558.2l5.5 5.5-5.5 5.5H1541zM1541 125.7v-5.5H1563.8l5.5 5.5-5.5 5.5H1541zM1541 138.2v-5.5H1563.8l5.5 5.5-5.5 5.5H1541zM1541 150.7v-5.5H1575.5l5.5 5.5-5.5 5.5H1541zM1541 163.2v-5.5H1575.5l5.5 5.5-5.5 5.5H1541z
M1390.7 300.7v-5.5H1411.2l5.5 5.5-5.5 5.5H1390.7zM1390.7 313.2v-5.5H1411.9l5.5 5.5-5.5 5.5H1390.7zM1390.7 325.7v-5.5H1415.2l5.5 5.5-5.5 5.5H1390.7zM1390.7 338.2v-5.5H1418.2l5.5 5.5-5.5 5.5H1390.7zM1390.7 350.7v-5.5H1445.2l5.5 5.5-5.5 5.5H1390.7z"/>
<g class="lt">
<text x="1393" y="104.1">UART</text><text x="1393" y="116.6">JOY0</text><text x="1393" y="129.1">JOY1</text><text x="1393" y="141.6" textLength="14" lengthAdjust="spacingAndGlyphs">VIA</text><text x="1393" y="154.1">OPL</text><text x="1393" y="166.6">VDCREAD</text><text x="1393" y="179.1">VDCWRITE</text><text x="1393" y="191.6">DISCO</text>
<text x="1543.3" y="104.1">NMI</text><text x="1543.3" y="116.6">IRQ</text><text x="1543.3" y="129.1">FIRQ</text><text x="1543.3" y="141.6">HALT</text><text x="1543.3" y="154.1">IDE1CS</text><text x="1543.3" y="166.6">IDE3CS</text>
<text x="1393" y="304.1">RAM</text><text x="1393" y="316.6">ROM</text><text x="1393" y="329.1">READ</text><text x="1393" y="341.6">WRITE</text><text x="1393" y="354.1">EXPANDANY</text>
</g>

<!-- P8 -->
<rect class="b" x="1422.7" y="482.3" width="24.6" height="249.7"/>
<path class="p" d="M1403.3 488H1429M1403.3 500.5H1429M1403.3 513H1429M1403.3 525.5H1429M1403.3 538H1429M1403.3 550.5H1429M1403.3 563H1429M1403.3 575.5H1429M1403.3 588H1429M1403.3 600.5H1429M1403.3 613H1429M1403.3 625.5H1429M1403.3 638H1429M1403.3 650.5H1429M1403.3 663H1429M1403.3 675.5H1429M1403.3 688H1429M1403.3 700.5H1429M1403.3 713H1429M1403.3 725.5H1429
M1441 488H1466.7M1441 500.5H1466.7M1441 513H1466.7M1441 525.5H1466.7M1441 538H1466.7M1441 550.5H1466.7M1441 563H1466.7M1441 575.5H1466.7M1441 588H1466.7M1441 600.5H1466.7M1441 613H1466.7M1441 625.5H1466.7M1441 638H1466.7M1441 650.5H1466.7M1441 663H1466.7M1441 675.5H1466.7M1441 688H1466.7M1441 700.5H1466.7M1441 713H1466.7M1441 725.5H1466.7
M1541.7 500h12l-6 5.5zM1316.3 613h12l-6 5.5zM1503.7 625.7h12l-6 5.5zM1479 675.7h12l-6 5.5zM1485 763.3h12l-6 5.5zM1543.7 587.7L1547.7 582.7 1551.7 587.7M1547.7 582.7V590M1274.3 618.3L1278.3 613.3 1282.3 618.3M1278.3 613.3V625M1278.3 631V638.3M1278.3 663.3V670M1379 750.7H1397.3M1409.3 750.7H1429M1472.7 750.7H1478.7"/>
<path class="w" d="M1385 488H1403.3M1385 500.5H1403.3M1385 513H1403.3M1385 525.5H1403.3M1385 538H1403.3M1385 550.5H1403.3M1385 563H1403.3M1385 575.5H1403.3M1385 625.5H1403.3M1385 638H1403.3M1385 688H1403.3M1385 700.5H1403.3M1385 713H1403.3M1466.7 488H1547.7V500M1466.7 500.5H1485M1466.7 513H1485M1466.7 525.5H1485M1466.7 538H1485M1466.7 550.5H1485M1466.7 563H1485M1466.7 575.5H1485M1466.7 588H1485M1466.7 700.5H1485M1466.7 713H1485
M1403.3 600.5H1322.3V613M1466.7 600.5H1547.7V590M1466.7 613H1509.7V625.7M1485 613V638H1466.7M1466.7 625.5H1485M1466.7 663H1485V675.7M1403.3 675.5H1265.7M1278.3 663.3V675.5M1278.3 625V631M1403.3 725.5H1366V750.7H1379M1429 750.7H1447.3M1466.7 725.5H1491V763.3M1478.7 750.7H1491"/>
<rect class="rb" x="1273.3" y="638.3" width="10" height="25"/>
<rect class="rb" x="1447.3" y="746" width="25.4" height="9.4"/>
<path class="j" d="M1485 613h0M1485 625.5h0M1278.3 675.5h0M1491 750.7h0"/>
<path class="f" d="M1397.3 744.7V756.7L1409.3 750.7z"/><path class="p" d="M1409.5 744.7V756.7M1413 755l4 4.5m-1.5-6.5l4 4.5"/>
<path class="x" d="M1400.8 610.5l5 5m0-5l-5 5M1400.8 648l5 5m0-5l-5 5M1400.8 660.5l5 5m0-5l-5 5M1464.2 648l5 5m0-5l-5 5M1464.2 673l5 5m0-5l-5 5M1464.2 685.5l5 5m0-5l-5 5"/>
<path class="l" d="M1349.3 488v-5.5H1379.5l5.5 5.5-5.5 5.5H1349.3z
M1362.7 500.5l5.5-5.5H1379.5l5.5 5.5-5.5 5.5H1368.2zM1362.7 513l5.5-5.5H1379.5l5.5 5.5-5.5 5.5H1368.2zM1362.7 525.5l5.5-5.5H1379.5l5.5 5.5-5.5 5.5H1368.2zM1362.7 538l5.5-5.5H1379.5l5.5 5.5-5.5 5.5H1368.2zM1362.7 550.5l5.5-5.5H1379.5l5.5 5.5-5.5 5.5H1368.2zM1362.7 563l5.5-5.5H1379.5l5.5 5.5-5.5 5.5H1368.2zM1362.7 575.5l5.5-5.5H1379.5l5.5 5.5-5.5 5.5H1368.2zM1362.7 588l5.5-5.5H1379.5l5.5 5.5-5.5 5.5H1368.2z
M1350.7 625.5v-5.5H1379.5l5.5 5.5-5.5 5.5H1350.7zM1354.3 638v-5.5H1379.5l5.5 5.5-5.5 5.5H1354.3zM1366.7 688v-5.5H1379.5l5.5 5.5-5.5 5.5H1366.7zM1366.7 700.5v-5.5H1379.5l5.5 5.5-5.5 5.5H1366.7zM1344 713v-5.5H1379.5l5.5 5.5-5.5 5.5H1344z
M1485 500.5l5.5-5.5H1516.2l5.5 5.5-5.5 5.5H1490.5zM1485 513l5.5-5.5H1516.2l5.5 5.5-5.5 5.5H1490.5zM1485 525.5l5.5-5.5H1522.2l5.5 5.5-5.5 5.5H1490.5zM1485 538l5.5-5.5H1522.2l5.5 5.5-5.5 5.5H1490.5zM1485 550.5l5.5-5.5H1522.2l5.5 5.5-5.5 5.5H1490.5zM1485 563l5.5-5.5H1522.2l5.5 5.5-5.5 5.5H1490.5zM1485 575.5l5.5-5.5H1522.2l5.5 5.5-5.5 5.5H1490.5zM1485 588l5.5-5.5H1522.2l5.5 5.5-5.5 5.5H1490.5z
M1503.3 700.5v-5.5H1490.5l-5.5 5.5 5.5 5.5H1503.3zM1525 713v-5.5H1490.5l-5.5 5.5 5.5 5.5H1525zM1265.7 675.5v-5.5H1236.5l-5.5 5.5 5.5 5.5H1265.7z"/>
<g class="lt">
<g class="e"><text x="1380.5" y="491.4">RESET</text><text x="1380.5" y="503.9">D7</text><text x="1380.5" y="516.4">D6</text><text x="1380.5" y="528.9">D5</text><text x="1380.5" y="541.4">D4</text><text x="1380.5" y="553.9">D3</text><text x="1380.5" y="566.4">D2</text><text x="1380.5" y="578.9">D1</text><text x="1380.5" y="591.4">D0</text><text x="1380.5" y="628.9">WRITE</text><text x="1380.5" y="641.4">READ</text><text x="1380.5" y="691.4">A1</text><text x="1380.5" y="703.9">A0</text><text x="1380.5" y="716.4">IDE1CS</text></g>
<text x="1489.5" y="503.9">IDED8</text><text x="1489.5" y="516.4">IDED9</text><text x="1489.5" y="528.9">IDED10</text><text x="1489.5" y="541.4">IDED11</text><text x="1489.5" y="553.9">IDED12</text><text x="1489.5" y="566.4">IDED13</text><text x="1489.5" y="578.9">IDED14</text><text x="1489.5" y="591.4">IDED15</text><text x="1489.5" y="703.9">A2</text><text x="1489.5" y="716.4">IDE3CS</text><text x="1234.5" y="678.9" textLength="30" lengthAdjust="spacingAndGlyphs">IDEIRQ</text>
</g>
<g class="n">
<text x="1412.7" y="485.5">1</text><text x="1412.7" y="498">3</text><text x="1412.7" y="510.5">5</text><text x="1412.7" y="523">7</text><text x="1412.7" y="535.5">9</text><text x="1412.7" y="548">11</text><text x="1412.7" y="560.5">13</text><text x="1412.7" y="573">15</text><text x="1412.7" y="585.5">17</text><text x="1412.7" y="598">19</text><text x="1412.7" y="610.5">21</text><text x="1412.7" y="623">23</text><text x="1412.7" y="635.5">25</text><text x="1412.7" y="648">27</text><text x="1412.7" y="660.5">29</text><text x="1412.7" y="673">31</text><text x="1412.7" y="685.5">33</text><text x="1412.7" y="698">35</text><text x="1412.7" y="710.5">37</text><text x="1412.7" y="723">39</text>
<text x="1456.7" y="485.5">2</text><text x="1456.7" y="498">4</text><text x="1456.7" y="510.5">6</text><text x="1456.7" y="523">8</text><text x="1456.7" y="535.5">10</text><text x="1456.7" y="548">12</text><text x="1456.7" y="560.5">14</text><text x="1456.7" y="573">16</text><text x="1456.7" y="585.5">18</text><text x="1456.7" y="598">20</text><text x="1456.7" y="610.5">22</text><text x="1456.7" y="623">24</text><text x="1456.7" y="635.5">26</text><text x="1456.7" y="648">28</text><text x="1456.7" y="660.5">30</text><text x="1456.7" y="673">32</text><text x="1456.7" y="685.5">34</text><text x="1456.7" y="698">36</text><text x="1456.7" y="710.5">38</text><text x="1456.7" y="723">40</text>
<text x="1387.7" y="749" style="font-size:8px">2</text><text x="1419" y="749" style="font-size:8px">1</text>
</g>
<g class="t">
<g class="m">
<text x="1436.7" y="478.3">P8</text><text x="1438.3" y="606.7" transform="rotate(-90 1438.3 606.7)">CONN_02X20</text>
<text x="1547.7" y="516">GNDD</text><text x="1547.7" y="580">+5VD</text><text x="1322.3" y="628.6">GNDD</text><text x="1509.7" y="640.6">GNDD</text><text x="1485" y="691">GNDD</text><text x="1491" y="778.6">GNDD</text><text x="1279" y="611">+5VD</text>
<text x="1403.3" y="741">D3</text><text x="1403.3" y="766">LED</text><text x="1460" y="763.4">R32</text><text x="1291.6" y="650" transform="rotate(-90 1291.6 650)">R33</text>
</g></g>
<text class="m" fill="#840000" x="1281.6" y="650.8" transform="rotate(-90 1281.6 650.8)">4.7K</text>
<text class="m" fill="#840000" x="1460" y="754">1K</text>

<!-- P3 -->
<rect class="b" x="196.3" y="469.3" width="25.4" height="62.4"/>
<path class="p" d="M177.7 475.7H203.3M177.7 488H203.3M177.7 500.7H203.3M177.7 513.2H203.3M177.7 525.7H203.3M215 475.7H240M215 488H240M215 500.7H240M215 513.2H240M215 525.7H240M248.7 393.3L252.7 388.3 256.7 393.3M252.7 388.3V398M259.3 606.7h12l-6 6z"/>
<path class="w" d="M127.7 475.7H177.7M127.7 488H177.7M127.7 500.7H177.7M127.7 525.7H177.7M152.7 500.7V457.3M152.7 431.7V413H252.7M165 525.7V457.3M165 431.7V413M252.7 398V488H240M240 475.7H265.3V606.7M240 525.7H265.3M140.3 475.7V544.3M140.3 569.7V588H265.3"/>
<rect class="rb" x="147.7" y="431.7" width="10" height="25.6"/><rect class="rb" x="160" y="431.7" width="10" height="25.6"/><rect class="rb" x="135.3" y="544.3" width="10" height="25.4"/>
<path class="j" d="M140.3 475.7h0M152.7 500.7h0M165 525.7h0M165 413h0M252.7 413h0M265.3 525.7h0M265.3 588h0"/>
<path class="x" d="M237.5 498.2l5 5m0-5l-5 5M175.2 510.7l5 5m0-5l-5 5M237.5 510.7l5 5m0-5l-5 5"/>
<path class="l" d="M127.7 475.7v-5.5H109.5l-5.5 5.5 5.5 5.5H127.7zM45.7 488v-5.5H122.2l5.5 5.5-5.5 5.5H45.7zM127.7 500.7v-5.5H109.5l-5.5 5.5 5.5 5.5H127.7zM127.7 525.7v-5.5H67.8l-5.5 5.5 5.5 5.5H127.7z"/>
<g class="lt e"><text x="125.5" y="479.1">TCK</text><text x="122.5" y="491.4">DISCOTOHEADER</text><text x="125.5" y="504.1">TMS</text><text x="125.5" y="529.1">HEADERTOCF</text></g>
<g class="n"><text x="186.7" y="473.2">1</text><text x="186.7" y="485.5">3</text><text x="186.7" y="498.2">5</text><text x="186.7" y="510.7">7</text><text x="186.7" y="523.2">9</text><text x="230.7" y="473.2">2</text><text x="230.7" y="485.5">4</text><text x="230.7" y="498.2">6</text><text x="230.7" y="510.7">8</text><text x="230.7" y="523.2">10</text></g>
<g class="t"><g class="m"><text x="209" y="466">P3</text><text x="209" y="541">CONN_02X05</text><text x="253.3" y="386.3">+5VD</text><text x="265.3" y="622.3">GNDD</text>
<text x="162.3" y="469" transform="rotate(-90 162.3 469)">R22</text><text x="174.6" y="469" transform="rotate(-90 174.6 469)">R23</text><text x="153.3" y="557.7" transform="rotate(-90 153.3 557.7)">R21</text></g></g>
<g fill="#840000"><text class="m" x="156" y="444.5" transform="rotate(-90 156 444.5)">1k</text><text class="m" x="168.3" y="444.5" transform="rotate(-90 168.3 444.5)">1k</text><text class="m" x="143.6" y="557" transform="rotate(-90 143.6 557)">1k</text></g>

<!-- gates -->
<path class="b" d="M246.7 757H297A25 25 0 0 1 297 807H246.7zM246.7 832H297A25 25 0 0 1 297 882H246.7zM421.3 794.5H472.4A25 25 0 0 1 472.4 844.5H421.3z"/>
<path class="p" d="M209.1 769.3H246.7M209.1 794.3H246.7M209.1 844.3H246.7M209.1 869.3H246.7M322 782H359.3M322 857H359.3M384.4 807H421.3M384.4 832H421.3M497.4 819.5H534.5M192.4 738.3L196.4 733.3 200.4 738.3M196.4 733.3V743"/>
<path class="w" d="M196.4 743V769.3H209.1M184 794.3H209.1M184 844.3H209.1M184 869.3H209.1M359.3 782H371.7V807H384.4M359.3 857H371.7V832H384.4M534.5 819.5H559.3"/>
<path class="l" d="M140.6 794.3v-5.5H178.5l5.5 5.5-5.5 5.5H140.6zM103.4 844.3v-5.5H178.5l5.5 5.5-5.5 5.5H103.4zM106.9 869.3v-5.5H178.5l5.5 5.5-5.5 5.5H106.9zM559.3 819.5v-5.5H595.2l5.5 5.5-5.5 5.5H559.3z"/>
<g class="lt"><text class="e" x="180" y="797.7">CFDONE</text><text class="e" style="font-size:9.1px" x="180" y="847.7">MUDDYINITDONE</text><text class="e" style="font-size:9.1px" x="180" y="872.7">DISCOINITDONE</text><text x="561.5" y="822.9">RESET</text></g>
<g class="n"><text x="228" y="766.8">1</text><text x="228" y="791.8">2</text><text x="228" y="841.8">4</text><text x="228" y="866.8">5</text><text x="340.3" y="779.5">3</text><text x="340.3" y="854.5">6</text><text x="402.7" y="804.5">9</text><text x="402.7" y="829.5">10</text><text x="515.6" y="817">8</text></g>
<g class="t m"><text class="big" x="284.5" y="779">U27A</text><text class="big" x="284.5" y="791.7">74HC08</text><text class="big" x="284.5" y="854">U27B</text><text class="big" x="284.5" y="866.7">74HC08</text><text class="big" x="458.8" y="817">U27C</text><text class="big" x="458.8" y="829.5">74HC08</text><text x="197" y="730">+5VD</text></g>

<!-- U35 -->
<rect class="b" x="778" y="719.3" width="50" height="50"/>
<path class="p" d="M798.7 675L802.7 670 806.7 675M802.7 670V680M802.7 693V719.3M802.7 769.3V793M796.7 813.3h12l-6 5.5zM828 744.7H853.3M828 742l-4 2.7 4 2.7"/>
<path class="w" d="M802.7 680V693M802.7 793V813.3M853.3 744.7H871.3"/>
<path class="l" d="M871.3 744.7v-5.5H916.2l5.5 5.5-5.5 5.5H871.3z"/>
<text class="lt" x="873.5" y="748.1">NTSC14M</text>
<g class="n" ><text x="841" y="742" style="font-size:7.5px">5</text><text x="801" y="706.7" transform="rotate(-90 801 706.7)" style="font-size:7.5px">8</text><text x="801" y="782" transform="rotate(-90 801 782)" style="font-size:7.5px">4</text></g>
<g class="t s"><text class="m" x="806" y="730" transform="rotate(-90 806 730)">Vcc</text><text class="m" x="806" y="758" transform="rotate(-90 806 758)">GND</text><text class="e" x="823.3" y="747.4">OUT</text></g>
<g class="t"><text class="m" x="802.7" y="667.5">+5VD</text><text class="m" x="802.7" y="828.6">GNDD</text><text class="big" x="811.7" y="779">U35</text><text class="big" x="807.7" y="716.7" textLength="104" lengthAdjust="spacingAndGlyphs">IQXO-22 @ 14.3M</text></g>

<!-- buzzer -->
<path class="w" d="M1110 750.7H1134.3V764M1159.3 764V750.7H1177.7M1209 750.7H1222.3V769.3M1084.7 857H1109.3M1160 857H1177.7M1209 857H1222.3V875.7"/>
<path class="p" d="M1134.3 764V788M1159.3 764V788M1203.7 750.7H1209M1216.3 769.3h12l-6 5.5zM1128.3 813.3L1110 832H1184.7L1166 813.3M1109.3 857H1128.3M1141 857H1160M1203.7 857H1209M1216.3 875.7h12l-6 5.5z"/>
<rect class="f" x="1128.3" y="788" width="37.7" height="25.3"/>
<rect class="rb" x="1177.7" y="746" width="26" height="9.4"/><rect class="rb" x="1177.7" y="852.3" width="26" height="9.4"/>
<path class="f" d="M1128.3 851V863L1141 857z"/><path class="p" d="M1141.5 851V863M1145 861l4 4.5m-1.5-6.5l4 4.5"/>
<path class="l" d="M1038 750.7v-5.5H1104.5l5.5 5.5-5.5 5.5H1038zM1032.7 857v-5.5H1079.2l5.5 5.5-5.5 5.5H1032.7z"/>
<g class="lt"><text x="1041" y="754.1">DISCOBUZZER</text><text x="1036" y="860.4">DISCOLED</text></g>
<text class="m" fill="#840000" x="1190.7" y="754">1K</text><text class="m" fill="#840000" x="1190.7" y="860.4">1K</text>
<g class="n"><text x="1134.3" y="776" transform="rotate(-90 1134.3 776)" style="font-size:8px">2</text><text x="1159" y="776" transform="rotate(-90 1159 776)" style="font-size:8px">1</text><text x="1118.7" y="855" style="font-size:8px">2</text><text x="1150.3" y="855" style="font-size:8px">1</text></g>
<g class="t m"><text x="1190.7" y="764">R31</text><text x="1190.7" y="869.7">R28</text><text x="1222.3" y="784.7">GNDD</text><text x="1222.3" y="891">GNDD</text><text x="1134.7" y="847.7">D5</text><text x="1134.7" y="872.4">LED</text><text x="1119.3" y="788.3" transform="rotate(-90 1119.3 788.3)">BUZZER</text><text x="1182.3" y="788" transform="rotate(-90 1182.3 788)">SP1</text></g>
</svg>
</body></html>
